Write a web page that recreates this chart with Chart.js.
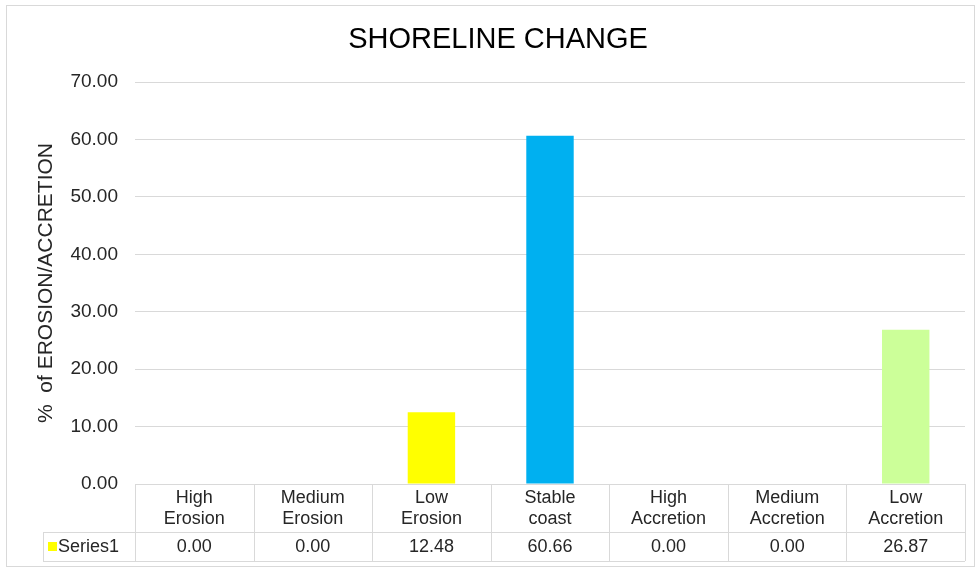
<!DOCTYPE html>
<html>
<head>
<meta charset="utf-8">
<script src="https://cdn.jsdelivr.net/npm/chart.js@4"></script>
<style>
  html, body { margin: 0; padding: 0; background: #fff; }
  #wrap { width: 977px; height: 568px; }
</style>
</head>
<body>
<div id="wrap"><canvas id="shoreChart" width="977" height="568"></canvas></div>
<script>
const categories = [["High", "Erosion"], ["Medium", "Erosion"], ["Low", "Erosion"], ["Stable", "coast"],
    ["High", "Accretion"], ["Medium", "Accretion"], ["Low", "Accretion"]];
const seriesValues = [0.00, 0.00, 12.48, 60.66, 0.00, 0.00, 26.87];
const barColors = ["#FFFF00", "#FFFF00", "#FFFF00", "#00B0F0", "#CCFF99", "#CCFF99", "#CCFF99"];
const seriesName = "Series1";
const chartTitle = "SHORELINE CHANGE";
const yTitle = "%  of EROSION/ACCRETION";

const FONT = "'Liberation Sans', Arial, sans-serif";
const LINE = "#d9d9d9";

// draws the border, the title and the Excel-style data table under the plot
const tablePlugin = {
    id: "dataTable",
    afterDraw(chart) {
        const ctx = chart.ctx;
        const ca = chart.chartArea;
        const x = chart.scales.x;
        const n = categories.length;
        const colW = (ca.right - ca.left) / n;
        const rowTop = ca.bottom;
        const rowMid = rowTop + 48;
        const rowBot = rowMid + 29;
        const keyLeft = 43;

        ctx.save();
        // outer border
        ctx.strokeStyle = LINE;
        ctx.lineWidth = 1;
        ctx.strokeRect(6.5, 5.5, 968, 561);

        // title
        ctx.fillStyle = "#000";
        ctx.font = "29px " + FONT;
        ctx.textAlign = "center";
        ctx.textBaseline = "middle";
        ctx.fillText(chartTitle, 498, 40);

        // table lines
        ctx.strokeStyle = LINE;
        ctx.beginPath();
        ctx.moveTo(ca.left, rowTop + 0.5); ctx.lineTo(ca.right, rowTop + 0.5);
        ctx.moveTo(keyLeft, rowMid + 0.5); ctx.lineTo(ca.right, rowMid + 0.5);
        ctx.moveTo(keyLeft, rowBot + 0.5); ctx.lineTo(ca.right, rowBot + 0.5);
        ctx.moveTo(keyLeft + 0.5, rowMid); ctx.lineTo(keyLeft + 0.5, rowBot);
        for (let i = 0; i <= n; i++) {
            const lx = Math.round(ca.left + i * colW) + 0.5;
            ctx.moveTo(lx, rowTop); ctx.lineTo(lx, rowBot);
        }
        ctx.stroke();

        // category labels and values
        ctx.fillStyle = "#262626";
        ctx.font = "18px " + FONT;
        categories.forEach((c, i) => {
            const cx = x.getPixelForValue(i);
            ctx.fillText(c[0], cx, rowTop + 14);
            ctx.fillText(c[1], cx, rowTop + 35);
            ctx.fillText(seriesValues[i].toFixed(2), cx, rowMid + 15);
        });

        // legend key
        ctx.fillStyle = barColors[0];
        ctx.fillRect(keyLeft + 5, rowMid + 10, 9, 9);
        ctx.fillStyle = "#262626";
        ctx.textAlign = "left";
        ctx.fillText(seriesName, keyLeft + 15, rowMid + 15);
        ctx.restore();
    }
};

new Chart(document.getElementById("shoreChart"), {
    type: "bar",
    data: {
        labels: categories.map(c => c.join(" ")),
        datasets: [{
            label: seriesName,
            data: seriesValues,
            backgroundColor: barColors,
            categoryPercentage: 1,
            barPercentage: 0.4
        }]
    },
    options: {
        responsive: false,
        animation: false,
        layout: { padding: { left: 34, right: 12, top: 82, bottom: 84 } },
        plugins: {
            legend: { display: false },
            title: { display: false },
            tooltip: { enabled: false }
        },
        scales: {
            x: { display: false },
            y: {
                min: 0,
                max: 70,
                afterFit: s => { s.width = 101; },
                ticks: {
                    stepSize: 10,
                    padding: 17,
                    color: "#262626",
                    font: { family: FONT, size: 19 },
                    callback: v => v.toFixed(2)
                },
                grid: { color: LINE, drawTicks: false },
                border: { display: false },
                title: {
                    display: true,
                    text: yTitle,
                    color: "#262626",
                    font: { family: FONT, size: 21 },
                    padding: 0
                }
            }
        }
    },
    plugins: [tablePlugin]
});
</script>
</body>
</html>
